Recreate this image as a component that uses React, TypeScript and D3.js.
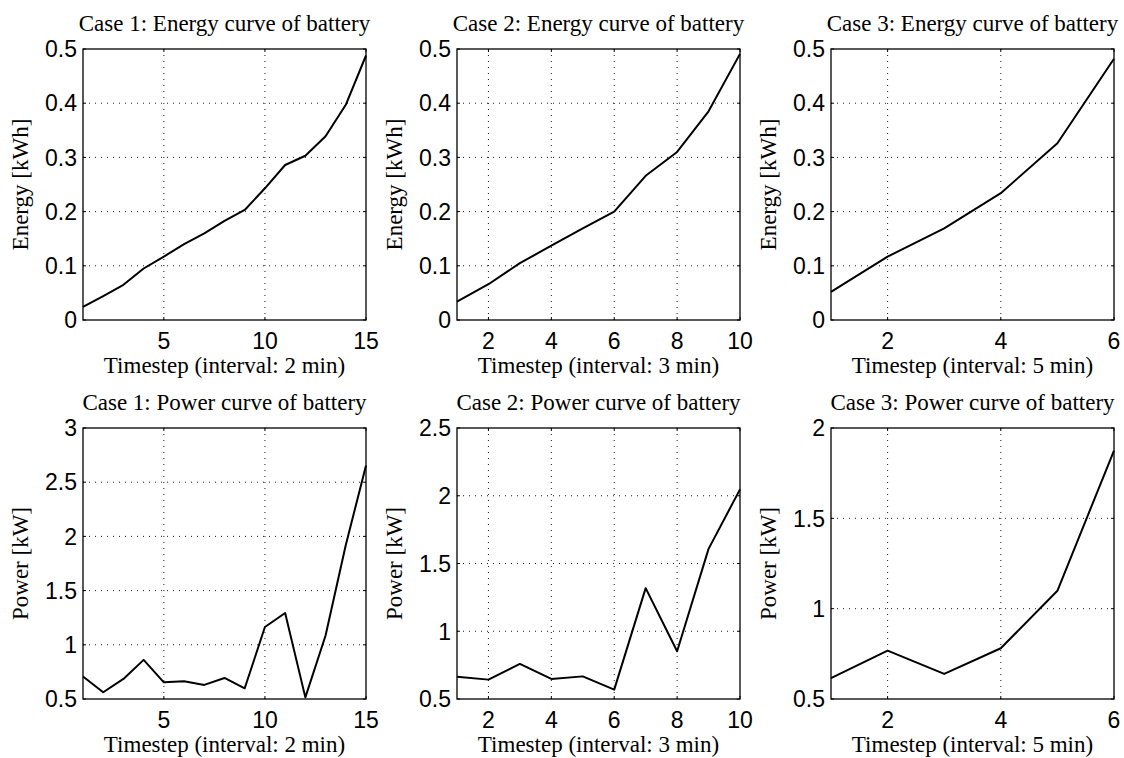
import React from "react";
import * as d3 from "d3";

// ---- data ----
const case1Steps = [1, 2, 3, 4, 5, 6, 7, 8, 9, 10, 11, 12, 13, 14, 15];
const case2Steps = [1, 2, 3, 4, 5, 6, 7, 8, 9, 10];
const case3Steps = [1, 2, 3, 4, 5, 6];

const case1Energy = [0.024, 0.044, 0.065, 0.095, 0.117, 0.14, 0.16, 0.183, 0.203, 0.243, 0.286, 0.303, 0.339, 0.397, 0.488];
const case2Energy = [0.034, 0.066, 0.105, 0.137, 0.169, 0.2, 0.266, 0.31, 0.385, 0.491];
const case3Energy = [0.052, 0.117, 0.169, 0.234, 0.326, 0.482];

const case1Power = [0.707, 0.562, 0.685, 0.861, 0.654, 0.663, 0.63, 0.694, 0.599, 1.164, 1.293, 0.515, 1.086, 1.92, 2.654];
const case2Power = [0.665, 0.643, 0.759, 0.648, 0.667, 0.569, 1.318, 0.852, 1.608, 2.047];
const case3Power = [0.615, 0.768, 0.639, 0.781, 1.099, 1.875];

const case1XTicks = [5, 10, 15];
const case2XTicks = [2, 4, 6, 8, 10];
const case3XTicks = [2, 4, 6];

const energyYTicks = [0, 0.1, 0.2, 0.3, 0.4, 0.5];
const power1YTicks = [0.5, 1, 1.5, 2, 2.5, 3];
const power2YTicks = [0.5, 1, 1.5, 2, 2.5];
const power3YTicks = [0.5, 1, 1.5, 2];

const titles = [
  "Case 1: Energy curve of battery",
  "Case 2: Energy curve of battery",
  "Case 3: Energy curve of battery",
  "Case 1: Power curve of battery",
  "Case 2: Power curve of battery",
  "Case 3: Power curve of battery",
];
const xLabels = ["Timestep (interval: 2 min)", "Timestep (interval: 3 min)", "Timestep (interval: 5 min)"];
const yLabels = ["Energy [kWh]", "Power [kW]"];

const panels = [
  { xs: case1Steps, ys: case1Energy, xTicks: case1XTicks, yTicks: energyYTicks, yDom: [0, 0.5], col: 0, row: 0, title: titles[0], xl: xLabels[0], yl: yLabels[0] },
  { xs: case2Steps, ys: case2Energy, xTicks: case2XTicks, yTicks: energyYTicks, yDom: [0, 0.5], col: 1, row: 0, title: titles[1], xl: xLabels[1], yl: yLabels[0] },
  { xs: case3Steps, ys: case3Energy, xTicks: case3XTicks, yTicks: energyYTicks, yDom: [0, 0.5], col: 2, row: 0, title: titles[2], xl: xLabels[2], yl: yLabels[0] },
  { xs: case1Steps, ys: case1Power, xTicks: case1XTicks, yTicks: power1YTicks, yDom: [0.5, 3], col: 0, row: 1, title: titles[3], xl: xLabels[0], yl: yLabels[1] },
  { xs: case2Steps, ys: case2Power, xTicks: case2XTicks, yTicks: power2YTicks, yDom: [0.5, 2.5], col: 1, row: 1, title: titles[4], xl: xLabels[1], yl: yLabels[1] },
  { xs: case3Steps, ys: case3Power, xTicks: case3XTicks, yTicks: power3YTicks, yDom: [0.5, 2], col: 2, row: 1, title: titles[5], xl: xLabels[2], yl: yLabels[1] },
];

const W = 1124;
const H = 758;
const PW = 283;
const PH = 271;
const LEFTS = [83, 457, 831];
const TOPS = [49, 428];
const SERIF = "'Liberation Serif', 'Times New Roman', serif";
const SANS = "'Liberation Sans', Arial, Helvetica, sans-serif";
const FS = 23;

function Panel({ p }: { p: any }) {
  const left = LEFTS[p.col];
  const top = TOPS[p.row];
  const x = d3.scaleLinear().domain([p.xs[0], p.xs[p.xs.length - 1]]).range([left, left + PW]);
  const y = d3.scaleLinear().domain(p.yDom).range([top + PH, top]);
  const line = d3.line<number>().x((_, i) => x(p.xs[i])).y((d) => y(d));
  const tl = 3;
  const fmt = (v: number) => String(v);
  return (
    <g>
      {/* grid */}
      {p.xTicks.filter((t: number) => t > x.domain()[0] && t < x.domain()[1]).map((t: number) => (
        <line key={"gx" + t} x1={x(t)} x2={x(t)} y1={top} y2={top + PH} stroke="#000" strokeWidth={0.9} strokeDasharray="1,5" />
      ))}
      {p.yTicks.filter((t: number) => t > p.yDom[0] && t < p.yDom[1]).map((t: number) => (
        <line key={"gy" + t} x1={left} x2={left + PW} y1={y(t)} y2={y(t)} stroke="#000" strokeWidth={0.9} strokeDasharray="1,5" />
      ))}
      {/* ticks */}
      {p.xTicks.map((t: number) => (
        <g key={"tx" + t}>
          <line x1={x(t)} x2={x(t)} y1={top + PH} y2={top + PH - tl} stroke="#000" strokeWidth={1} />
          <line x1={x(t)} x2={x(t)} y1={top} y2={top + tl} stroke="#000" strokeWidth={1} />
          <text x={x(t)} y={top + PH + 29} textAnchor="middle" fontFamily={SANS} fontSize={FS} fill="#000">{fmt(t)}</text>
        </g>
      ))}
      {p.yTicks.map((t: number) => (
        <g key={"ty" + t}>
          <line x1={left} x2={left + tl} y1={y(t)} y2={y(t)} stroke="#000" strokeWidth={1} />
          <line x1={left + PW} x2={left + PW - tl} y1={y(t)} y2={y(t)} stroke="#000" strokeWidth={1} />
          <text x={left - 6} y={y(t)} dy="0.36em" textAnchor="end" fontFamily={SANS} fontSize={FS} fill="#000">{fmt(t)}</text>
        </g>
      ))}
      {/* data */}
      <path d={line(p.ys) || ""} fill="none" stroke="#000" strokeWidth={2} strokeLinejoin="round" />
      {/* box */}
      <rect x={left} y={top} width={PW} height={PH} fill="none" stroke="#000" strokeWidth={1.3} />
      {/* labels */}
      <text x={left + PW / 2} y={top - 18} textAnchor="middle" fontFamily={SERIF} fontSize={FS} fill="#000">{p.title}</text>
      <text x={left + PW / 2} y={top + PH + 53} textAnchor="middle" fontFamily={SERIF} fontSize={FS} fill="#000">{p.xl}</text>
      <text transform={`translate(${left - 55},${top + PH / 2}) rotate(-90)`} textAnchor="middle" fontFamily={SERIF} fontSize={FS} fill="#000">{p.yl}</text>
    </g>
  );
}

export default function App() {
  return (
    <svg width={W} height={H} style={{ position: "absolute", left: 0, top: 0, background: "#fff" }}>
      <rect width={W} height={H} fill="#fff" />
      {panels.map((p, i) => (
        <Panel key={i} p={p} />
      ))}
    </svg>
  );
}
